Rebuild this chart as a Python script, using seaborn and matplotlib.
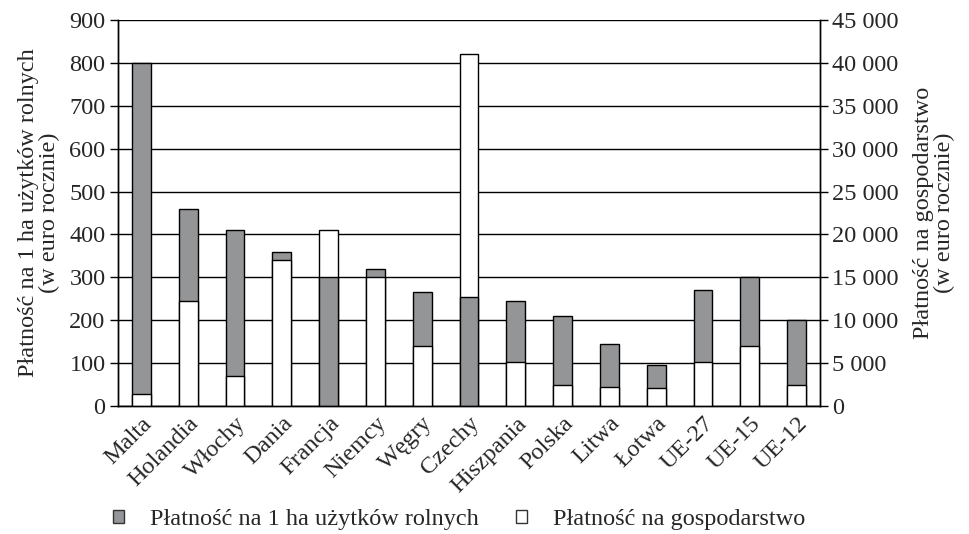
import matplotlib
matplotlib.use("Agg")
import matplotlib.pyplot as plt
import matplotlib.patches as mpatches
import matplotlib.transforms as mtransforms
import numpy as np
import pandas as pd
import seaborn as sns

countries = ["Malta", "Holandia", "Włochy", "Dania", "Francja", "Niemcy", "Węgry",
             "Czechy", "Hiszpania", "Polska", "Litwa", "Łotwa", "UE-27", "UE-15", "UE-12"]
per_ha = [800, 460, 410, 360, 300, 320, 265, 255, 245, 210, 145, 95, 270, 300, 200]
per_farm = [1400, 12250, 3500, 17000, 20500, 15000, 7000, 41000, 5100, 2500,
            2250, 2100, 5100, 7000, 2500]

label_ha = "Płatność na 1 ha użytków rolnych"
label_farm = "Płatność na gospodarstwo"
gray = "#939598"
scale = 45000 / 900  # right axis units per left axis unit
fs = 17.5

sns.set_style("white")
plt.rcParams["font.family"] = ["Liberation Serif", "DejaVu Serif"]
plt.rcParams["font.size"] = fs

df = pd.DataFrame({"country": countries * 2,
                   "value": per_ha + [v / scale for v in per_farm],
                   "series": [label_ha] * len(countries) + [label_farm] * len(countries)})

fig = plt.figure(figsize=(9.7, 5.34), dpi=100)
ax = fig.add_axes([118 / 970, 1 - 406 / 534, 702 / 970, 386 / 534])

sns.barplot(data=df, x="country", y="value", hue="series", dodge=False,
            palette={label_ha: gray, label_farm: "white"}, width=0.4,
            edgecolor="black", linewidth=1, legend=False, ax=ax)

# shorter bar of each pair goes in front
n = len(countries)
bars = [p for p in ax.patches if p.get_height() > 0]
for i in range(n):
    a, b = bars[i], bars[i + n]
    if a.get_height() < b.get_height():
        a.set_zorder(3); b.set_zorder(2)
    else:
        a.set_zorder(2); b.set_zorder(3)

ax.set_xlim(-0.5, n - 0.5)
ax.set_ylim(0, 900)
ax.set_yticks(np.arange(0, 901, 100))
ax.yaxis.grid(True, color="black", linewidth=1)
ax.set_axisbelow(True)
ax.set_xlabel("")
ax.set_ylabel("Płatność na 1 ha użytków rolnych\n(w euro rocznie)", fontsize=fs, linespacing=1.0)
ax.yaxis.set_label_coords(-0.0826, 0.5)
for s in ax.spines.values():
    s.set_color("black")
    s.set_linewidth(1)
ax.spines["top"].set_visible(False)

ax.set_xticks(range(n))
ax.set_xticklabels(countries, rotation=45, ha="right", rotation_mode="anchor", fontsize=fs)
offset = mtransforms.ScaledTranslation(9 / 100, 0, fig.dpi_scale_trans)
for lbl in ax.get_xticklabels():
    lbl.set_transform(lbl.get_transform() + offset)
ax.set_xticks(np.arange(-0.5, n, 1), minor=True)
ax.tick_params(axis="x", which="major", length=0, pad=5)
ax.tick_params(axis="x", which="minor", length=6, width=1, color="black", direction="out")
ax.tick_params(axis="y", length=6, width=1, color="black", direction="out", labelsize=fs, pad=3)

ax2 = ax.twinx()
ax2.set_ylim(0, 45000)
ax2.set_yticks(np.arange(0, 45001, 5000))
ax2.set_yticklabels([f"{v:,}".replace(",", " ") for v in range(0, 45001, 5000)])
ax2.tick_params(axis="y", length=6, width=1, color="black", direction="out", labelsize=fs, pad=3)
ax2.set_ylabel("Płatność na gospodarstwo\n(w euro rocznie)", fontsize=fs, linespacing=1.0,
               rotation=90)
ax2.yaxis.set_label_coords(1.1325, 0.5)
for s in ax2.spines.values():
    s.set_color("black")
    s.set_linewidth(1)
ax2.spines["top"].set_visible(False)

handles = [mpatches.Patch(facecolor=gray, edgecolor="#333333", label=label_ha),
           mpatches.Patch(facecolor="white", edgecolor="#333333", label=label_farm)]
ax.legend(handles=handles, loc="center", bbox_to_anchor=(0.486, -0.295), ncol=2,
          frameon=False, fontsize=fs, handlelength=0.45, handleheight=0.45,
          columnspacing=1.5, handletextpad=1.1)

fig.savefig("out.png", dpi=100)
